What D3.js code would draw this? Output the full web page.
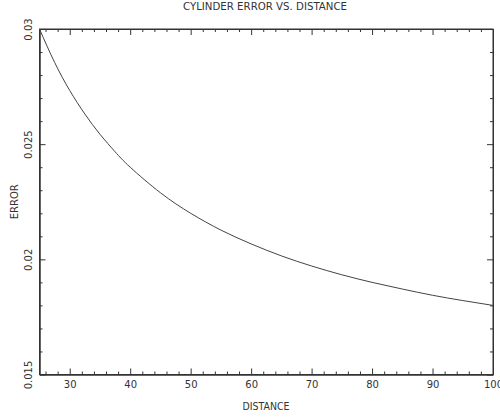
<!DOCTYPE html>
<html><head><meta charset="utf-8">
<script src="https://cdn.jsdelivr.net/npm/d3@7"></script>
<style>body{margin:0;background:#fff}svg{display:block}text{font-family:"DejaVu Sans",sans-serif;fill:#333}</style>
</head><body>
<script>
const distance = [25, 27.5, 30, 32.5, 35, 37.5, 40, 45, 50, 55, 60, 65, 70, 75, 80, 85, 90, 95, 100];
const error = [0.0300, 0.02855, 0.02733, 0.02631, 0.02543, 0.02467, 0.0240, 0.02289, 0.0220, 0.02127, 0.02067, 0.02015, 0.01971, 0.01933, 0.0190, 0.01871, 0.01844, 0.01821, 0.0180];
const xMajor = [30, 40, 50, 60, 70, 80, 90, 100];
const xMinor = [26,28,32,34,36,38,42,44,46,48,52,54,56,58,62,64,66,68,72,74,76,78,82,84,86,88,92,94,96,98];
const yMajor = [0.015, 0.02, 0.025, 0.03];
const yMinor = [0.016,0.017,0.018,0.019,0.021,0.022,0.023,0.024,0.026,0.027,0.028,0.029];
const yLabels = ["0.015", "0.02", "0.025", "0.03"];
const title = "CYLINDER ERROR VS. DISTANCE";

const W = 500, H = 417;
const L = 39.5, R = 493, T = 29, B = 374.5;
const svg = d3.select("body").append("svg").attr("width", W).attr("height", H);
const x = d3.scaleLinear().domain([25, 100]).range([L, R]);
const y = d3.scaleLinear().domain([0.015, 0.03]).range([B, T]);
const col = "#333";

function style(g){ g.selectAll("path,line").attr("stroke", col).attr("stroke-width", 1); g.attr("font-size", 10).attr("font-family", null); g.selectAll("text").attr("fill", col); }

// bottom
svg.append("g").attr("transform", `translate(0,${B})`)
  .call(d3.axisBottom(x).tickValues(xMajor).tickSizeInner(-6).tickSizeOuter(0).tickPadding(6).tickFormat(d3.format("d")))
  .call(style);
svg.append("g").attr("transform", `translate(0,${B})`)
  .call(d3.axisBottom(x).tickValues(xMinor).tickSizeInner(-3).tickSizeOuter(0).tickFormat(""))
  .call(style);
// top
svg.append("g").attr("transform", `translate(0,${T})`)
  .call(d3.axisTop(x).tickValues(xMajor).tickSizeInner(-6).tickSizeOuter(0).tickFormat(""))
  .call(style);
svg.append("g").attr("transform", `translate(0,${T})`)
  .call(d3.axisTop(x).tickValues(xMinor).tickSizeInner(-3).tickSizeOuter(0).tickFormat(""))
  .call(style);
// left
const gl = svg.append("g").attr("transform", `translate(${L},0)`)
  .call(d3.axisLeft(y).tickValues(yMajor).tickSizeInner(-6).tickSizeOuter(0).tickFormat((d,i)=>yLabels[i]))
  .call(style);
gl.selectAll("text").attr("transform","rotate(-90)").attr("x",0).attr("y",-8).attr("dy",0).attr("text-anchor","middle");
svg.append("g").attr("transform", `translate(${L},0)`)
  .call(d3.axisLeft(y).tickValues(yMinor).tickSizeInner(-3).tickSizeOuter(0).tickFormat(""))
  .call(style);
// right
svg.append("g").attr("transform", `translate(${R},0)`)
  .call(d3.axisRight(y).tickValues(yMajor).tickSizeInner(-6).tickSizeOuter(0).tickFormat(""))
  .call(style);
svg.append("g").attr("transform", `translate(${R},0)`)
  .call(d3.axisRight(y).tickValues(yMinor).tickSizeInner(-3).tickSizeOuter(0).tickFormat(""))
  .call(style);
// frame
svg.append("rect").attr("x", L).attr("y", T).attr("width", R-L).attr("height", B-T)
  .attr("fill","none").attr("stroke", col).attr("stroke-width",1);

// curve
const line = d3.line().x((d,i)=>x(distance[i])).y(d=>y(d)).curve(d3.curveNatural);
svg.append("path").attr("d", line(error)).attr("fill","none").attr("stroke","#444").attr("stroke-width",1);

// titles
svg.append("text").attr("x", 265).attr("y", 10).attr("text-anchor","middle").attr("font-size",10)
  .attr("textLength",164).attr("lengthAdjust","spacingAndGlyphs").text(title);
svg.append("text").attr("x", 266).attr("y", 409.5).attr("text-anchor","middle").attr("font-size",10)
  .attr("textLength",47).attr("lengthAdjust","spacingAndGlyphs").text("DISTANCE");
svg.append("text").attr("transform",`translate(17.5,${(T+B)/2}) rotate(-90)`).attr("text-anchor","middle").attr("font-size",10)
  .text("ERROR");
</script>
</body></html>
